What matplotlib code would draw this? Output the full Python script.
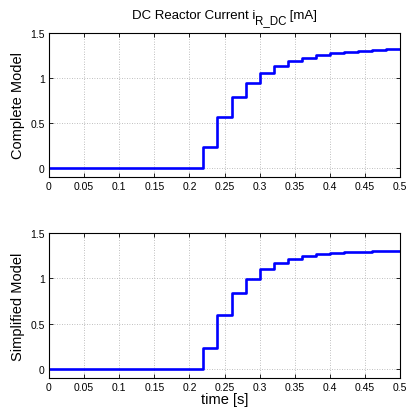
import numpy as np
import matplotlib.pyplot as plt

plt.rcParams['font.family'] = ['Liberation Sans', 'DejaVu Sans']

# step times [s] and reactor current [mA]
t = [0, 0.22, 0.24, 0.26, 0.28, 0.30, 0.32, 0.34, 0.36, 0.38, 0.40, 0.42, 0.44, 0.46, 0.48, 0.50]
i_complete = [0, 0.229, 0.565, 0.79, 0.945, 1.055, 1.129, 1.188, 1.225, 1.255, 1.273, 1.292, 1.30, 1.31, 1.318, 1.318]
i_simplified = [0, 0.232, 0.598, 0.834, 0.996, 1.103, 1.166, 1.218, 1.251, 1.266, 1.277, 1.288, 1.295, 1.30, 1.303, 1.303]

xticks = np.arange(0, 0.501, 0.05)
xticklabels = ['0', '0.05', '0.1', '0.15', '0.2', '0.25', '0.3', '0.35', '0.4', '0.45', '0.5']
yticks = [0, 0.5, 1, 1.5]
yticklabels = ['0', '0.5', '1', '1.5']

fig = plt.figure(figsize=(4.08, 4.10), dpi=100)
ax1 = fig.add_axes([49/408, 1 - 178/410, 351/408, 144/410])
ax2 = fig.add_axes([49/408, 1 - 379/410, 351/408, 145/410])

for ax, y, lab in [(ax1, i_complete, 'Complete Model'), (ax2, i_simplified, 'Simplified Model')]:
    ax.step(t, y, where='post', color='#0000ff', linewidth=1.9)
    ax.set_xlim(0, 0.5)
    ax.set_ylim(-0.1, 1.5)
    ax.set_xticks(xticks)
    ax.set_xticklabels(xticklabels)
    ax.set_yticks(yticks)
    ax.set_yticklabels(yticklabels)
    ax.grid(True, linestyle=(0, (1, 2)), color='#aaaaaa', linewidth=0.6)
    ax.tick_params(direction='in', top=True, right=True, labelsize=7.5, length=3, width=0.6, pad=3)
    ax.set_ylabel(lab, fontsize=10.5, labelpad=4)
    for s in ax.spines.values():
        s.set_linewidth(0.8)

ax2.set_xlabel('time [s]', fontsize=10.5, labelpad=0)

# title with large subscript, built from pieces
fig.canvas.draw()
r = fig.canvas.get_renderer()
ty = 1 - 19/410
parts = [('DC Reactor Current i', 9.5, 0), ('R_DC', 8.3, -5/410), (' [mA]', 9.5, 0)]
pieces = []
for s, fs, dy in parts:
    pieces.append(fig.text(0, ty + dy, s, fontsize=fs, ha='left', va='baseline'))
widths = [p.get_window_extent(r).width / 408 for p in pieces]
x0 = 0.5 * (49 + 400) / 408 - sum(widths) / 2
for p, w in zip(pieces, widths):
    p.set_x(x0)
    x0 += w

fig.savefig('out.png', dpi=100)
